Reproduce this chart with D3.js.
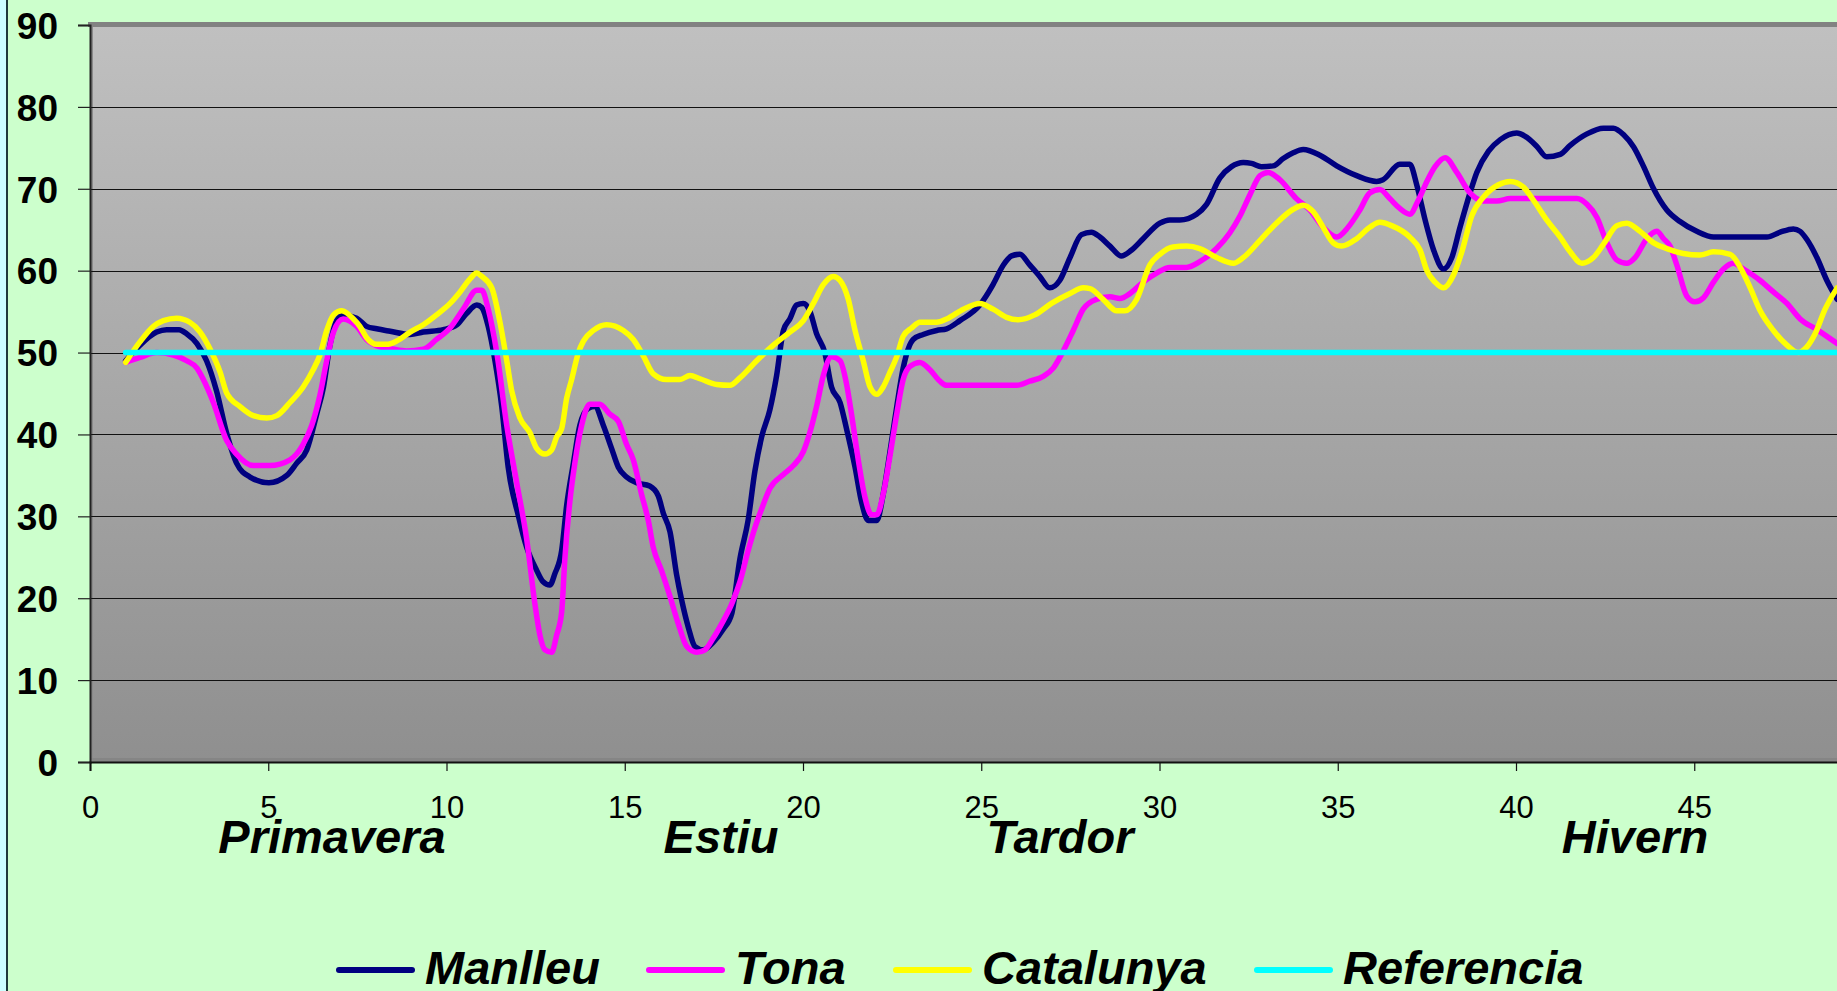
<!DOCTYPE html>
<html>
<head>
<meta charset="utf-8">
<script src="https://cdn.jsdelivr.net/npm/d3@7"></script>
<style>
  html, body { margin: 0; padding: 0; background: #CCFFCC; overflow: hidden; }
  svg { display: block; }
</style>
</head>
<body>
<svg id="chart" width="1837" height="991"></svg>
<script>
// ---------- DATA ----------
const xTicks = [0, 5, 10, 15, 20, 25, 30, 35, 40, 45];
const yTicks = [0, 10, 20, 30, 40, 50, 60, 70, 80, 90];
const seasons = ["Primavera", "Estiu", "Tardor", "Hivern"];
const seriesNames = ["Manlleu", "Tona", "Catalunya", "Referencia"];
const seriesColors = ["#000080", "#FF00FF", "#FFFF00", "#00FFFF"];

const manlleu = [[1,49],[1.4,50.9],[1.87,52.5],[2.15,52.8],[2.5,52.8],[2.71,52.3],[3.0,51.1],[3.27,49],[3.55,45.3],[3.83,40.2],[4.11,36.5],[4.49,34.8],[5.02,34.1],[5.52,35],[5.8,36.5],[6.08,38.1],[6.36,42.5],[6.55,45.8],[6.73,50.9],[6.92,53.9],[7.1,54.6],[7.48,54.2],[7.76,53.2],[8.04,52.9],[8.42,52.6],[8.98,52.2],[9.35,52.5],[9.91,52.8],[10.29,53.4],[10.57,54.8],[10.85,55.8],[10.99,55.5],[11.17,53.2],[11.36,49],[11.55,43.4],[11.73,36],[12.02,30],[12.25,26.2],[12.53,23.4],[12.71,22],[12.9,21.6],[13.04,23],[13.23,25.8],[13.37,31.3],[13.56,36.5],[13.74,41.1],[13.98,43.2],[14.16,43.4],[14.4,41.1],[14.63,38.3],[14.82,36],[15.05,34.8],[15.33,34.1],[15.7,33.7],[15.94,32.5],[16.08,30.4],[16.27,28.1],[16.45,23],[16.6,19.7],[16.78,16.5],[16.97,14.1],[17.2,13.7],[17.48,14.6],[17.76,16.2],[18,18.1],[18.23,24.8],[18.46,29.5],[18.65,35.5],[18.84,39.7],[19.07,43],[19.26,47.2],[19.45,52.7],[19.63,54.1],[19.82,55.8],[20.01,56],[20.19,55.1],[20.38,52.3],[20.61,50],[20.8,45.8],[21.04,43.9],[21.22,40.7],[21.46,36],[21.64,31.8],[21.83,29.5],[22.07,29.5],[22.25,32.7],[22.44,37.9],[22.63,43.4],[22.81,48.1],[23.09,51.6],[23.37,52.2],[23.75,52.7],[24.03,52.9],[24.4,53.9],[24.96,55.8],[25.33,58.3],[25.62,60.7],[25.85,61.8],[26.08,62],[26.36,60.7],[26.64,59.3],[26.92,57.9],[27.2,58.8],[27.49,61.6],[27.81,64.4],[28.09,64.7],[28.33,64.1],[28.61,63],[28.93,61.8],[29.21,62.5],[29.54,63.9],[30.01,65.8],[30.29,66.2],[30.57,66.2],[31.04,66.9],[31.32,68.1],[31.69,71.3],[32.02,72.7],[32.35,73.2],[32.58,73.1],[32.86,72.7],[33.19,72.8],[33.47,73.7],[33.75,74.4],[34.03,74.8],[34.5,74.1],[34.97,72.8],[35.53,71.6],[36.09,70.9],[36.27,71.1],[36.74,73],[37.02,73],[37.22,70.4],[37.45,66.2],[37.69,62.5],[37.97,60.2],[38.2,61.6],[38.43,65.3],[38.71,69.5],[38.9,72],[39.23,74.6],[39.56,76],[40.02,76.8],[40.26,76.4],[40.58,75.2],[40.86,73.9],[41.24,74.2],[41.52,75.3],[41.99,76.7],[42.45,77.4],[42.73,77.4],[43.02,76.6],[43.3,75.1],[43.58,72.7],[43.86,70],[44.23,67.4],[44.6,66],[45.07,64.8],[45.54,64.1],[46.1,64.1],[47.04,64.1],[47.41,64.7],[47.78,65.1],[47.97,64.8],[48.16,63.8],[48.44,61.6],[48.72,58.8],[49.01,56.5]];

const tona = [[1,48.8],[1.4,49.4],[1.87,50],[2.34,49.7],[2.71,49],[3.0,48.1],[3.18,46.7],[3.46,43.9],[3.83,39.3],[4.11,37.6],[4.58,36.2],[5.05,36.2],[5.61,36.9],[5.98,38.8],[6.22,41.1],[6.45,44.8],[6.64,49],[6.83,52.5],[7.1,54.1],[7.48,53.2],[7.76,51.6],[8.13,50.7],[8.42,50.5],[8.88,50.2],[9.35,50.4],[9.72,51.6],[10.1,53],[10.47,55.3],[10.85,57.6],[10.99,57.6],[11.17,55.3],[11.41,50],[11.69,41.1],[11.97,34.1],[12.25,27.2],[12.48,19.3],[12.62,15.5],[12.76,13.7],[12.95,13.4],[13.09,15.5],[13.23,18.3],[13.32,24.8],[13.46,31.8],[13.6,36.5],[13.79,41.1],[14.02,43.7],[14.3,43.7],[14.58,42.5],[14.82,41.6],[15.05,38.8],[15.24,36.9],[15.47,32.7],[15.66,29.5],[15.8,26.2],[16.03,23.4],[16.27,20.2],[16.5,16.9],[16.74,14.1],[17.02,13.4],[17.25,13.7],[17.48,15.1],[17.72,16.9],[18,19.3],[18.23,22],[18.46,25.8],[18.65,28.6],[18.84,30.9],[19.07,33.4],[19.45,35.1],[19.73,36.2],[20.01,37.9],[20.19,40.2],[20.38,43.4],[20.57,47.2],[20.8,49.5],[21.04,49],[21.22,46.2],[21.36,42.5],[21.55,36.9],[21.74,32.3],[21.92,30.2],[22.07,30.2],[22.25,32.7],[22.44,37.4],[22.63,42.5],[22.81,46.7],[23.0,48.3],[23.28,48.8],[23.56,47.9],[23.84,46.5],[24.03,46],[26.0,46],[26.36,46.5],[26.74,47.1],[27.02,48.1],[27.3,50.2],[27.58,52.7],[27.86,55.3],[28.23,56.5],[28.61,56.8],[28.89,56.6],[29.17,57.2],[29.54,58.6],[29.92,59.7],[30.29,60.4],[30.76,60.4],[31.13,61.1],[31.6,62.7],[31.97,64.6],[32.26,66.7],[32.54,69.3],[32.82,71.6],[33.05,72],[33.38,71.1],[33.84,68.8],[34.22,67.4],[34.59,65.3],[34.97,64.1],[35.29,65.3],[35.62,67.4],[35.9,69.5],[36.18,69.9],[36.46,68.8],[36.74,67.6],[37.02,66.9],[37.26,68.6],[37.5,70.9],[37.73,72.7],[38.01,73.8],[38.34,72],[38.71,69.5],[39.09,68.5],[39.46,68.5],[39.84,68.8],[41.71,68.8],[41.99,68.1],[42.27,66.5],[42.55,63.4],[42.83,61.3],[43.11,60.9],[43.34,61.6],[43.67,63.9],[43.95,64.8],[44.14,63.9],[44.32,63],[44.51,60.7],[44.79,56.9],[45.02,56.2],[45.26,56.7],[45.54,58.6],[45.82,60.2],[46.1,60.9],[46.38,60.2],[46.85,58.8],[47.22,57.4],[47.6,56],[47.97,54.1],[48.44,52.8],[49.01,51.1]];

const catalunya = [[1,48.8],[1.4,51.3],[1.78,53.2],[2.06,53.9],[2.43,54.2],[2.8,53.7],[3.09,52.5],[3.37,50.4],[3.65,47.6],[3.83,45.1],[4.21,43.4],[4.58,42.3],[4.96,42],[5.24,42.3],[5.61,43.9],[5.98,45.8],[6.26,47.9],[6.45,49.7],[6.64,52.7],[6.83,54.6],[7.06,55.1],[7.39,54.1],[7.57,53.2],[7.76,51.8],[8.04,51],[8.32,51],[8.6,51.4],[8.98,52.5],[9.35,53.4],[9.72,54.6],[10.1,56],[10.38,57.4],[10.66,59],[10.85,59.7],[10.99,59.3],[11.27,57.9],[11.5,53.7],[11.69,49],[11.83,45.3],[12.06,42],[12.34,40.2],[12.53,38.3],[12.76,37.6],[12.95,38.1],[13.09,39.7],[13.23,40.7],[13.37,44.4],[13.51,46.7],[13.7,50],[13.84,51.4],[14.12,52.7],[14.49,53.4],[14.96,52.7],[15.24,51.6],[15.52,49.6],[15.8,47.4],[16.17,46.7],[16.55,46.7],[16.83,47.2],[17.11,46.8],[17.58,46.1],[17.95,46],[18.23,46.9],[18.7,49],[19.17,50.9],[19.63,52.5],[20.01,53.9],[20.29,56],[20.57,58.3],[20.85,59.3],[21.04,58.8],[21.27,56.5],[21.46,52.7],[21.69,49],[21.88,45.8],[22.07,44.9],[22.25,45.8],[22.44,47.6],[22.63,49.5],[22.81,52],[23.05,53],[23.28,53.7],[23.75,53.7],[24.03,54.1],[24.5,55.3],[24.96,56],[25.33,55.3],[25.71,54.3],[26.04,54],[26.5,54.6],[26.97,56],[27.49,57.2],[27.86,57.9],[28.05,57.8],[28.42,56.5],[28.8,55.1],[29.03,55.1],[29.36,56.5],[29.73,60.7],[30.01,62],[30.38,62.9],[30.76,63],[31.13,62.7],[31.6,61.6],[32.07,60.9],[32.35,61.6],[32.82,63.7],[33.28,65.8],[33.75,67.5],[34.03,68],[34.31,67.2],[34.59,65.3],[34.87,63.4],[35.11,63],[35.53,63.9],[35.9,65.3],[36.18,65.9],[36.51,65.5],[37.02,64.1],[37.31,62.5],[37.5,60],[37.73,58.6],[37.97,57.9],[38.25,59.5],[38.48,62.3],[38.76,66.7],[39.09,69],[39.51,70.5],[39.84,70.9],[40.21,70.2],[40.49,68.6],[40.86,66.2],[41.24,64.1],[41.52,62.3],[41.85,60.9],[42.17,61.6],[42.45,63.2],[42.83,65.5],[43.11,65.8],[43.48,64.8],[43.86,63.4],[44.23,62.7],[44.69,62.1],[45.16,61.9],[45.54,62.3],[46.01,62],[46.29,60.4],[46.57,57.9],[46.85,55.1],[47.22,52.7],[47.6,50.9],[47.92,50],[48.16,50.7],[48.39,52.3],[48.67,55.3],[49.01,57.9]];

const referencia = [[1,50],[50,50]];

// ---------- LAYOUT ----------
const svg = d3.select("#chart");
const FONT = "'Liberation Sans', Arial, Helvetica, sans-serif";
const plotLeft = 90, plotTop = 25, plotBottom = 762, unitPx = 35.65;

const x = d3.scaleLinear().domain([0, 50]).range([plotLeft, plotLeft + 50 * unitPx]);
const y = d3.scaleLinear().domain([0, 90]).range([plotBottom, plotTop]);

// page background + left border strip
svg.append("rect").attr("x", 0).attr("y", 0).attr("width", 1837).attr("height", 991).attr("fill", "#CCFFCC");
svg.append("rect").attr("x", 0).attr("y", 0).attr("width", 6).attr("height", 991).attr("fill", "#CCFFFF");
svg.append("rect").attr("x", 6).attr("y", 0).attr("width", 2).attr("height", 991).attr("fill", "#1f3a3a");

// plot area gradient
const defs = svg.append("defs");
const grad = defs.append("linearGradient").attr("id", "plotGrad")
  .attr("x1", 0).attr("y1", 0).attr("x2", 0).attr("y2", 1);
grad.append("stop").attr("offset", "0%").attr("stop-color", "#c0c0c0");
grad.append("stop").attr("offset", "100%").attr("stop-color", "#8f8f8f");

svg.append("rect")
  .attr("x", plotLeft).attr("y", plotTop)
  .attr("width", 1837 - plotLeft).attr("height", plotBottom - plotTop)
  .attr("fill", "url(#plotGrad)");

// frame shading (top band, left inner band, bottom band)
svg.append("rect").attr("x", plotLeft - 2).attr("y", 22).attr("width", 1837).attr("height", 5).attr("fill", "#828282");
svg.append("rect").attr("x", plotLeft).attr("y", 27).attr("width", 3).attr("height", plotBottom - 27).attr("fill", "#8a8a8a");
svg.append("rect").attr("x", plotLeft).attr("y", plotBottom - 4).attr("width", 1837).attr("height", 4).attr("fill", "#858585");

// gridlines
svg.append("g").selectAll("line")
  .data(yTicks.filter(d => d > 0 && d < 90))
  .join("line")
  .attr("x1", plotLeft).attr("x2", 1837)
  .attr("y1", d => Math.round(y(d)) + 0.5).attr("y2", d => Math.round(y(d)) + 0.5)
  .attr("stroke", "#111").attr("stroke-width", 1.2);

// y axis
const yAxis = svg.append("g")
  .attr("transform", `translate(${plotLeft},0)`)
  .call(d3.axisLeft(y).tickValues(yTicks).tickSize(12).tickPadding(20));
yAxis.select(".domain").attr("stroke", "#222").attr("stroke-width", 2);
yAxis.selectAll(".tick line").attr("stroke", "#222").attr("stroke-width", 1.2);
yAxis.selectAll(".tick text")
  .attr("font-family", FONT).attr("font-size", 37).attr("font-weight", "bold")
  .attr("fill", "#000").attr("dy", "0.36em");

// x axis
const xAxis = svg.append("g")
  .attr("transform", `translate(0,${plotBottom})`)
  .call(d3.axisBottom(x).tickValues(xTicks).tickSize(9).tickPadding(25));
xAxis.select(".domain").attr("stroke", "#111").attr("stroke-width", 2);
xAxis.selectAll(".tick line").attr("stroke", "#111").attr("stroke-width", 1.2);
xAxis.selectAll(".tick text")
  .attr("font-family", FONT).attr("font-size", 31).attr("font-weight", "normal")
  .attr("fill", "#000");

// series lines
const line = d3.line()
  .x(d => x(d[0])).y(d => y(d[1]))
  .curve(d3.curveMonotoneX);

const seriesData = [manlleu, tona, catalunya, referencia];
svg.append("g").selectAll("path")
  .data(seriesData)
  .join("path")
  .attr("d", d => line(d))
  .attr("fill", "none")
  .attr("stroke", (d, i) => seriesColors[i])
  .attr("stroke-width", 5.5)
  .attr("stroke-linejoin", "round")
  .attr("stroke-linecap", "round");

// season labels (centres in pixels)
const seasonCenters = [332, 721, 1060, 1635];
svg.append("g").selectAll("text")
  .data(seasons)
  .join("text")
  .attr("x", (d, i) => seasonCenters[i])
  .attr("y", 853)
  .attr("text-anchor", "middle")
  .attr("font-family", FONT).attr("font-size", 47)
  .attr("font-weight", "bold").attr("font-style", "italic")
  .attr("fill", "#000")
  .text(d => d);

// legend
const legendLineX = [339, 649, 896, 1257];
const legend = svg.append("g");
seriesNames.forEach((name, i) => {
  legend.append("line")
    .attr("x1", legendLineX[i]).attr("x2", legendLineX[i] + 73)
    .attr("y1", 970).attr("y2", 970)
    .attr("stroke", seriesColors[i]).attr("stroke-width", 6)
    .attr("stroke-linecap", "round");
  legend.append("text")
    .attr("x", legendLineX[i] + 86).attr("y", 984)
    .attr("font-family", FONT).attr("font-size", 47)
    .attr("font-weight", "bold").attr("font-style", "italic")
    .attr("fill", "#000")
    .text(name);
});
</script>
</body>
</html>
